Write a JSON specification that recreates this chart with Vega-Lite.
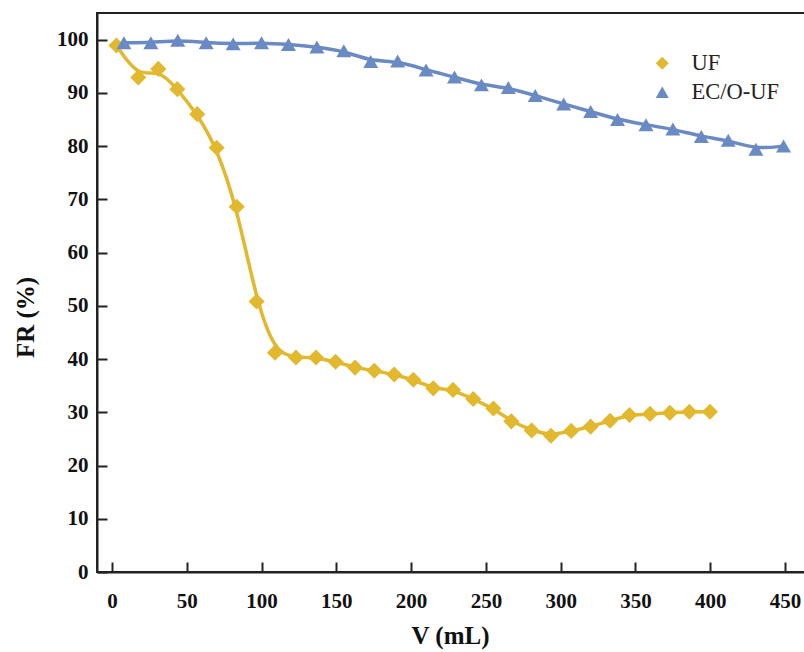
{
  "$schema": "https://vega.github.io/schema/vega-lite/v6.json",
  "width": 712,
  "height": 559,
  "padding": {"left": 97, "top": 13, "right": 0, "bottom": 80},
  "autosize": {"type": "none"},
  "background": "white",
  "config": {
    "view": {"stroke": "#222", "strokeWidth": 2},
    "axis": {
      "grid": false,
      "domainColor": "#222",
      "domainWidth": 2,
      "tickColor": "#222",
      "tickWidth": 2,
      "tickSize": -10,
      "labelFont": "Liberation Serif",
      "labelFontWeight": "bold",
      "labelFontSize": 21,
      "labelColor": "#111",
      "titleFont": "Liberation Serif",
      "titleFontWeight": "bold",
      "titleFontSize": 25,
      "titleColor": "#111"
    },
    "legend": {
      "symbolSize": 170,
      "labelFont": "Liberation Serif",
      "labelFontSize": 22.5,
      "labelColor": "#222",
      "symbolStrokeWidth": 0
    }
  },
  "data": {
    "values": [
      {"V": 3, "FR": 98.9, "series": "UF"},
      {"V": 17.6, "FR": 92.9, "series": "UF"},
      {"V": 31, "FR": 94.5, "series": "UF"},
      {"V": 43.7, "FR": 90.7, "series": "UF"},
      {"V": 57, "FR": 86.0, "series": "UF"},
      {"V": 70, "FR": 79.7, "series": "UF"},
      {"V": 83.4, "FR": 68.6, "series": "UF"},
      {"V": 96.7, "FR": 50.8, "series": "UF"},
      {"V": 109, "FR": 41.2, "series": "UF"},
      {"V": 123, "FR": 40.3, "series": "UF"},
      {"V": 136.4, "FR": 40.3, "series": "UF"},
      {"V": 149.5, "FR": 39.5, "series": "UF"},
      {"V": 162.5, "FR": 38.4, "series": "UF"},
      {"V": 175.4, "FR": 37.8, "series": "UF"},
      {"V": 188.7, "FR": 37.1, "series": "UF"},
      {"V": 201.5, "FR": 36.1, "series": "UF"},
      {"V": 214.8, "FR": 34.5, "series": "UF"},
      {"V": 228, "FR": 34.2, "series": "UF"},
      {"V": 241.5, "FR": 32.5, "series": "UF"},
      {"V": 255, "FR": 30.7, "series": "UF"},
      {"V": 267, "FR": 28.3, "series": "UF"},
      {"V": 280.6, "FR": 26.6, "series": "UF"},
      {"V": 293.5, "FR": 25.6, "series": "UF"},
      {"V": 307, "FR": 26.5, "series": "UF"},
      {"V": 320, "FR": 27.3, "series": "UF"},
      {"V": 333, "FR": 28.4, "series": "UF"},
      {"V": 346, "FR": 29.5, "series": "UF"},
      {"V": 359.7, "FR": 29.7, "series": "UF"},
      {"V": 373, "FR": 29.9, "series": "UF"},
      {"V": 386, "FR": 30.1, "series": "UF"},
      {"V": 399.8, "FR": 30.1, "series": "UF"},
      {"V": 8, "FR": 99.4, "series": "EC/O-UF"},
      {"V": 26, "FR": 99.4, "series": "EC/O-UF"},
      {"V": 44, "FR": 99.9, "series": "EC/O-UF"},
      {"V": 63, "FR": 99.4, "series": "EC/O-UF"},
      {"V": 81, "FR": 99.2, "series": "EC/O-UF"},
      {"V": 100, "FR": 99.4, "series": "EC/O-UF"},
      {"V": 118, "FR": 99.1, "series": "EC/O-UF"},
      {"V": 137, "FR": 98.6, "series": "EC/O-UF"},
      {"V": 155, "FR": 97.9, "series": "EC/O-UF"},
      {"V": 173, "FR": 95.9, "series": "EC/O-UF"},
      {"V": 191, "FR": 96.0, "series": "EC/O-UF"},
      {"V": 210, "FR": 94.3, "series": "EC/O-UF"},
      {"V": 229, "FR": 93.0, "series": "EC/O-UF"},
      {"V": 247, "FR": 91.5, "series": "EC/O-UF"},
      {"V": 265, "FR": 91.0, "series": "EC/O-UF"},
      {"V": 283, "FR": 89.5, "series": "EC/O-UF"},
      {"V": 302, "FR": 87.9, "series": "EC/O-UF"},
      {"V": 320, "FR": 86.5, "series": "EC/O-UF"},
      {"V": 338, "FR": 85.0, "series": "EC/O-UF"},
      {"V": 357, "FR": 84.0, "series": "EC/O-UF"},
      {"V": 375, "FR": 83.2, "series": "EC/O-UF"},
      {"V": 394, "FR": 81.8, "series": "EC/O-UF"},
      {"V": 412, "FR": 81.1, "series": "EC/O-UF"},
      {"V": 430.5, "FR": 79.4, "series": "EC/O-UF"},
      {"V": 449, "FR": 80.0, "series": "EC/O-UF"}
    ]
  },
  "encoding": {
    "x": {
      "field": "V", "type": "quantitative",
      "scale": {"domain": [-10, 466], "nice": false, "zero": false},
      "axis": {
        "title": "V (mL)",
        "values": [0, 50, 100, 150, 200, 250, 300, 350, 400, 450],
        "labelPadding": 28,
        "labelBaseline": "top",
        "titleX": 353,
        "titleY": 71,
        "titleBaseline": "alphabetic"
      }
    },
    "y": {
      "field": "FR", "type": "quantitative",
      "scale": {"domain": [0, 105], "nice": false},
      "axis": {
        "title": "FR (%)",
        "values": [0, 10, 20, 30, 40, 50, 60, 70, 80, 90, 100],
        "labelPadding": 19,
        "titleAngle": -90,
        "titleX": -72,
        "titleY": 304,
        "titleBaseline": "middle",
        "titleAlign": "center"
      }
    }
  },
  "layer": [
    {
      "transform": [{"filter": "datum.series === 'UF'"}],
      "mark": {"type": "line", "interpolate": "basis", "strokeWidth": 3.5, "color": "#E2B82E"},
      "encoding": {}
    },
    {
      "transform": [{"filter": "datum.series === 'EC/O-UF'"}],
      "mark": {"type": "line", "interpolate": "basis", "strokeWidth": 3.5, "color": "#6A8AC4"},
      "encoding": {}
    },
    {
      "transform": [{"filter": "datum.series === 'UF'"}],
      "mark": {"type": "point", "filled": true, "opacity": 1, "size": 260},
      "encoding": {
        "shape": {
          "field": "series", "type": "nominal",
          "scale": {"domain": ["UF", "EC/O-UF"], "range": ["diamond", "triangle-up"]},
          "legend": {"title": null, "orient": "none", "legendX": 554, "legendY": 39, "labelOffset": 18, "rowPadding": 6, "padding": 0}
        },
        "color": {
          "field": "series", "type": "nominal",
          "scale": {"domain": ["UF", "EC/O-UF"], "range": ["#E2B82E", "#6A8AC4"]},
          "legend": {"title": null, "orient": "none", "legendX": 554, "legendY": 39, "labelOffset": 18, "rowPadding": 6, "padding": 0}
        }
      }
    },
    {
      "transform": [{"filter": "datum.series === 'EC/O-UF'"}],
      "mark": {"type": "point", "filled": true, "opacity": 1, "size": 225},
      "encoding": {
        "shape": {
          "field": "series", "type": "nominal",
          "scale": {"domain": ["UF", "EC/O-UF"], "range": ["diamond", "triangle-up"]},
          "legend": {"title": null, "orient": "none", "legendX": 554, "legendY": 39, "labelOffset": 18, "rowPadding": 6, "padding": 0}
        },
        "color": {
          "field": "series", "type": "nominal",
          "scale": {"domain": ["UF", "EC/O-UF"], "range": ["#E2B82E", "#6A8AC4"]},
          "legend": {"title": null, "orient": "none", "legendX": 554, "legendY": 39, "labelOffset": 18, "rowPadding": 6, "padding": 0}
        }
      }
    }
  ]
}
